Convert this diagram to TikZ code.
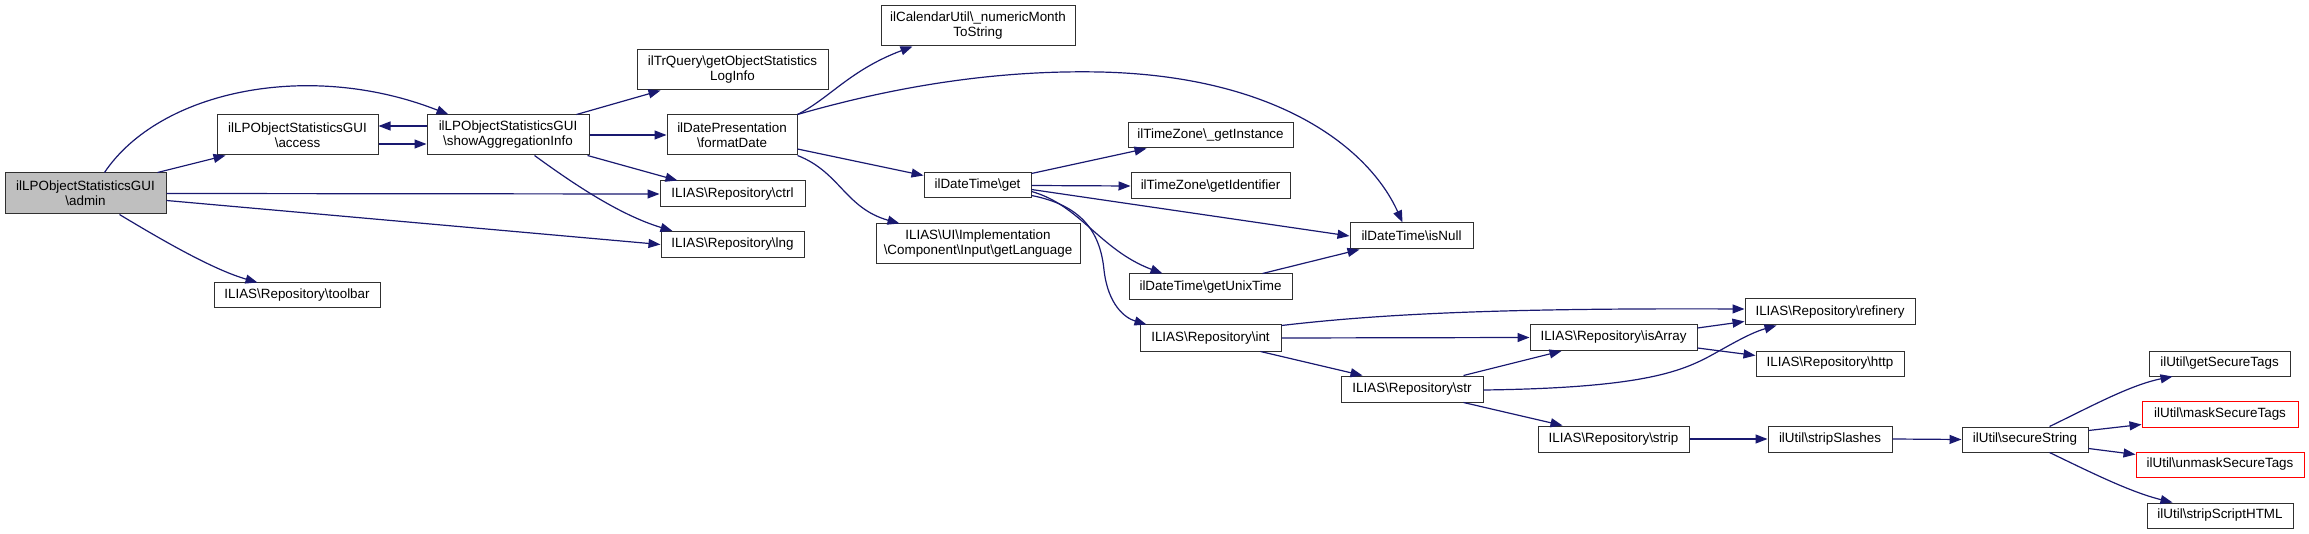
\documentclass[tikz,border=0pt]{standalone}
\usepackage{fontspec}
\setmainfont{Liberation Sans}
\usetikzlibrary{arrows.meta,calc}
\definecolor{edgec}{HTML}{191970}
\definecolor{gfill}{HTML}{BFBFBF}
\definecolor{boxc}{HTML}{303030}
\newcommand{\bs}{\textbackslash}
\begin{document}
\begin{tikzpicture}[x=1pt,y=-1pt,
  box/.style={draw=boxc, line width=1pt, rectangle, inner sep=0pt, align=center, font=\fontsize{13.4}{15}\selectfont, fill=white},
  redbox/.style={box, draw=red},
  e/.style={draw=edgec, line width=1.2pt, -{Triangle[length=12pt,width=9pt]}},
]
\useasboundingbox (0,0) rectangle (2309,534);

% nodes
\node[box, fill=gfill, minimum width=161pt, minimum height=41pt] (admin) at (85.5,193.5) {ilLPObjectStatisticsGUI\\\bs admin};
\node[box, minimum width=161pt, minimum height=40pt] (access) at (297.5,135) {ilLPObjectStatisticsGUI\\\bs access};
\node[box, minimum width=162pt, minimum height=40pt] (showAgg) at (508,135) {ilLPObjectStatisticsGUI\\\bs showAggregationInfo};
\node[box, minimum width=166pt, minimum height=25pt] (toolbar) at (297,295.5) {ILIAS\bs Repository\bs toolbar};
\node[box, minimum width=191pt, minimum height=40pt] (loginfo) at (732.5,70) {ilTrQuery\bs getObjectStatistics\\LogInfo};
\node[box, minimum width=130pt, minimum height=40pt] (formatDate) at (732,135) {ilDatePresentation\\\bs formatDate};
\node[box, minimum width=145pt, minimum height=26pt] (ctrl) at (732.5,194) {ILIAS\bs Repository\bs ctrl};
\node[box, minimum width=143pt, minimum height=26pt] (lng) at (732.5,244.5) {ILIAS\bs Repository\bs lng};
\node[box, minimum width=194pt, minimum height=40pt] (month) at (978,26) {ilCalendarUtil\bs \_numericMonth\\ToString};
\node[box, minimum width=107pt, minimum height=25pt] (get) at (977.5,185.5) {ilDateTime\bs get};
\node[box, minimum width=204pt, minimum height=40pt] (lang) at (978,244) {ILIAS\bs UI\bs Implementation\\\bs Component\bs Input\bs getLanguage};
\node[box, minimum width=165pt, minimum height=25pt] (inst) at (1210.5,135.5) {ilTimeZone\bs \_getInstance};
\node[box, minimum width=159pt, minimum height=26pt] (ident) at (1210.5,186) {ilTimeZone\bs getIdentifier};
\node[box, minimum width=123pt, minimum height=26pt] (isNull) at (1411.5,236) {ilDateTime\bs isNull};
\node[box, minimum width=163pt, minimum height=26pt] (unix) at (1210.5,287) {ilDateTime\bs getUnixTime};
\node[box, minimum width=141pt, minimum height=26pt] (int) at (1210.5,338) {ILIAS\bs Repository\bs int};
\node[box, minimum width=142pt, minimum height=26pt] (str) at (1412,389) {ILIAS\bs Repository\bs str};
\node[box, minimum width=170pt, minimum height=26pt] (refinery) at (1830,312) {ILIAS\bs Repository\bs refinery};
\node[box, minimum width=167pt, minimum height=26pt] (isArray) at (1613.5,337.5) {ILIAS\bs Repository\bs isArray};
\node[box, minimum width=148pt, minimum height=25pt] (http) at (1830,363.5) {ILIAS\bs Repository\bs http};
\node[box, minimum width=151pt, minimum height=26pt] (strip) at (1613.5,439) {ILIAS\bs Repository\bs strip};
\node[box, minimum width=124pt, minimum height=26pt] (slashes) at (1830,439) {ilUtil\bs stripSlashes};
\node[box, minimum width=126pt, minimum height=25pt] (secure) at (2025,439.5) {ilUtil\bs secureString};
\node[box, minimum width=141pt, minimum height=25pt] (gettags) at (2219.5,363.5) {ilUtil\bs getSecureTags};
\node[redbox, minimum width=156pt, minimum height=26pt] (mask) at (2220,414) {ilUtil\bs maskSecureTags};
\node[redbox, minimum width=168pt, minimum height=25pt] (unmask) at (2220,464.5) {ilUtil\bs unmaskSecureTags};
\node[box, minimum width=146pt, minimum height=25pt] (html) at (2220,515.5) {ilUtil\bs stripScriptHTML};

% edges
\draw[e] ($(admin.north west)+(100,0)$) .. controls (160,90) and (310,60) .. ($(showAgg.north west)+(22,0)$);
\draw[e] ($(admin.north west)+(153,0)$) -- ($(access.south west)+(9,0)$);
\draw[e] (admin.east) -- (ctrl.west);
\draw[e] ($(admin.east)+(0,7)$) -- (lng.west);
\draw[e] ($(admin.south west)+(115,0)$) .. controls (170,245) and (215,270) .. ($(toolbar.north west)+(44,0)$);
\draw[e] ($(access.east)+(0,9)$) -- ($(showAgg.west)+(0,9)$);
\draw[e] ($(showAgg.west)+(0,-9)$) -- ($(access.east)+(0,-9)$);
\draw[e] ($(showAgg.north west)+(150,0)$) -- ($(loginfo.south west)+(24,0)$);
\draw[e] (showAgg.east) -- (formatDate.west);
\draw[e] ($(showAgg.south east)+(-2,0)$) -- ($(ctrl.north west)+(18,0)$);
\draw[e] ($(showAgg.south west)+(108,0)$) .. controls (575,185) and (620,215) .. ($(lng.north west)+(12,0)$);
\draw[e] (formatDate.north east) .. controls (830,98) and (850,70) .. ($(month.south west)+(32,0)$);
\draw[e] (formatDate.north east) .. controls (900,85) and (1000,70) .. (1100,72) .. controls (1280,76) and (1370,150) .. ($(isNull.north west)+(53,0)$);
\draw[e] ($(formatDate.east)+(0,14)$) -- ($(get.west)+(0,-10)$);
\draw[e] (formatDate.south east) .. controls (840,172) and (845,208) .. ($(lang.north west)+(24,0)$);
\draw[e] ($(get.north east)+(0,1)$) -- ($(inst.south west)+(19,0)$);
\draw[e] (get.east) -- (ident.west);
\draw[e] ($(get.east)+(0,4)$) -- (isNull.west);
\draw[e] ($(get.east)+(0,6)$) .. controls (1080,205) and (1100,250) .. ($(unix.north west)+(34,0)$);
\draw[e] ($(get.south east)+(0,-3)$) .. controls (1080,205) and (1100,230) .. (1104,270) .. controls (1108,305) and (1125,318) .. ($(int.north west)+(7,0)$);
\draw[e] ($(unix.north east)+(-30,0)$) -- ($(isNull.south west)+(10,0)$);
\draw[e] ($(int.north east)+(0,1)$) .. controls (1380,314) and (1500,308) .. ($(refinery.west)+(0,-3)$);
\draw[e] (int.east) -- (isArray.west);
\draw[e] ($(int.south east)+(-21,0)$) -- ($(str.north west)+(22,0)$);
\draw[e] ($(isArray.north east)+(0,4)$) -- ($(refinery.south west)+(0,-4)$);
\draw[e] ($(isArray.south east)+(0,-3)$) -- ($(http.west)+(0,-8)$);
\draw[e] ($(str.north east)+(-20,0)$) -- ($(isArray.south west)+(32,0)$);
\draw[e] ($(str.east)+(0,1)$) .. controls (1640,388) and (1680,372) .. (1710,356) .. controls (1730,345) and (1750,333) .. ($(refinery.south west)+(32,0)$);
\draw[e] ($(str.south east)+(-20,0)$) -- ($(strip.north west)+(25,0)$);
\draw[e] (strip.east) -- (slashes.west);
\draw[e] (slashes.east) -- (secure.west);
\draw[e] ($(secure.north west)+(88,0)$) .. controls (2090,407) and (2130,385) .. ($(gettags.south west)+(24,0)$);
\draw[e] ($(secure.north east)+(0,4)$) -- ($(mask.south west)+(0,-3)$);
\draw[e] ($(secure.south east)+(0,-4)$) -- ($(unmask.north west)+(0,3)$);
\draw[e] ($(secure.south west)+(88,0)$) .. controls (2090,472) and (2130,492) .. ($(html.north west)+(26,0)$);
\end{tikzpicture}
\end{document}
